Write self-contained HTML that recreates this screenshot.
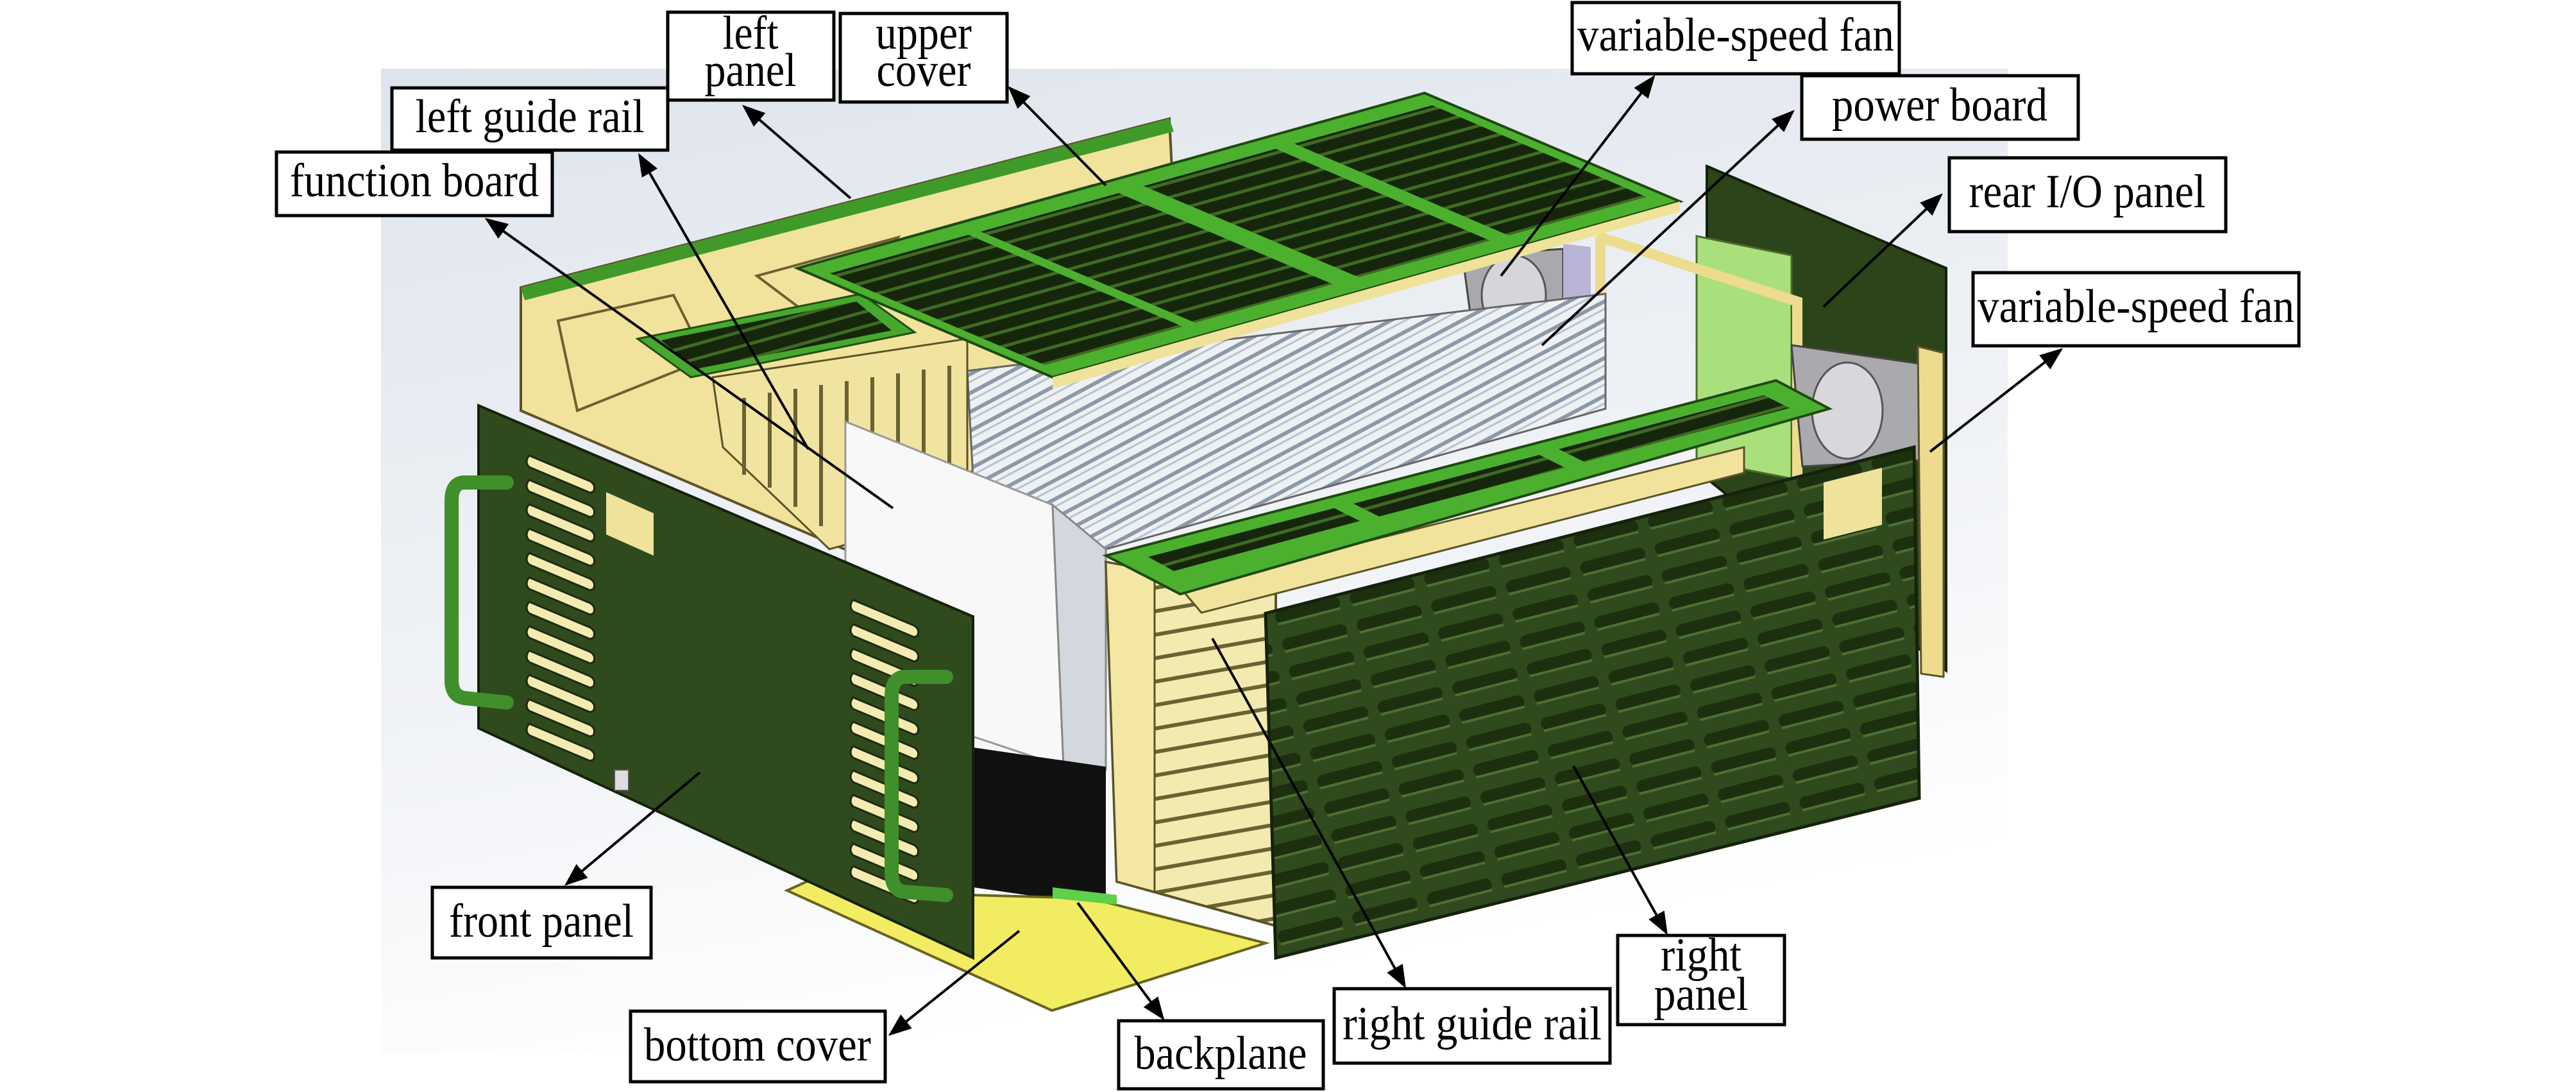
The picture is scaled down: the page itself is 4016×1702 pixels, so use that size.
<!DOCTYPE html>
<html><head><meta charset="utf-8"><style>
html,body{margin:0;padding:0;background:#fff;}
svg{display:block;}
text{font-family:"Liberation Serif",serif;font-size:74px;fill:#000;}
</style></head><body>
<svg width="4016" height="1702" viewBox="0 0 4016 1702" xmlns="http://www.w3.org/2000/svg">
<defs>
<linearGradient id="bg" x1="0" y1="0" x2="0.3" y2="1">
<stop offset="0" stop-color="#dfe4ec"/><stop offset="0.7" stop-color="#f3f5f8"/><stop offset="1" stop-color="#ffffff"/>
</linearGradient>
<pattern id="slatA" width="40" height="22" patternUnits="userSpaceOnUse" patternTransform="rotate(-15.6)">
<rect width="40" height="22" fill="#16260c"/><rect y="14" width="40" height="5" fill="#3f6a22"/>
</pattern>
<pattern id="slatR" width="120" height="44" patternUnits="userSpaceOnUse" patternTransform="rotate(-14.4)">
<rect width="120" height="44" fill="#2f4a1c"/><rect x="6" y="10" width="104" height="20" rx="10" fill="#1c300f"/><rect x="8" y="28" width="100" height="4" fill="#4f6e33"/>
</pattern>
<pattern id="cards" width="26" height="26" patternUnits="userSpaceOnUse" patternTransform="rotate(62)">
<rect width="26" height="26" fill="#eef1f4"/><rect width="6" height="26" fill="#8d99a8"/><rect x="12" width="3" height="26" fill="#b8c3cf"/>
</pattern>
<pattern id="yslot" width="60" height="36" patternUnits="userSpaceOnUse" patternTransform="rotate(-10)">
<rect width="60" height="36" fill="#f3eab0"/><rect y="24" width="60" height="6" fill="#6b6232"/>
</pattern>
<g id="slot"><path d="M0,0 L95,40 Q105,46 100,56 L95,58 L0,18 Q-8,10 0,0Z" fill="#f4ebb0" stroke="#1e2a10" stroke-width="3"/></g>
<marker id="ah" markerWidth="10" markerHeight="10" refX="8" refY="5" orient="auto" markerUnits="strokeWidth">
<path d="M0,1.5 L9,5 L0,8.5Z" fill="#000"/></marker>
</defs>
<rect width="4016" height="1702" fill="#fff"/>
<rect x="594" y="107" width="2536" height="1535" fill="url(#bg)"/>

<polygon points="812,448 1823,185 1840,520 1326,860 812,640" fill="#f1e39b" stroke="#5c5328" stroke-width="4"/>
<polygon points="812,448 1823,185 1830,205 818,468" fill="#3f9a2a"/>
<path d="M870,500 L1050,460 L1100,560 L900,640Z M1180,430 L1400,370 L1300,520Z M1450,360 L1700,290 L1600,420Z" fill="none" stroke="#6b6232" stroke-width="4"/>

<polygon points="2661,259 3034,418 3034,1045 2661,746" fill="#2c4419" stroke="#14200a" stroke-width="4"/>
<polygon points="2645,368 2793,398 2793,746 2645,717" fill="#a9e07c" stroke="#4b6b2a" stroke-width="3"/>
<path d="M2490,368 L2802,470 L2802,745 M2495,368 L2495,640" fill="none" stroke="#eddc8e" stroke-width="16"/>
<polygon points="2280,398 2437,388 2437,538 2296,518" fill="#a8a8ad" stroke="#444" stroke-width="3"/>
<ellipse cx="2360" cy="460" rx="50" ry="62" fill="#d6d6da" stroke="#555" stroke-width="3"/>
<polygon points="2437,380 2480,385 2480,560 2437,545" fill="#b9b3d6"/>
<polygon points="2793,538 3001,568 3001,717 2810,727" fill="#a9a9ae" stroke="#444" stroke-width="3"/>
<ellipse cx="2880" cy="640" rx="55" ry="75" fill="#d8d8dc" stroke="#555" stroke-width="3"/>
<polygon points="2990,540 3030,550 3030,1055 2995,1050" fill="#eddc8e" stroke="#5c5328" stroke-width="3"/>

<polygon points="1508,578 2503,458 2503,637 1724,856 1520,800" fill="url(#cards)" stroke="#666" stroke-width="3"/>
<polygon points="1111,588 1508,528 1508,797 1293,856 1127,697" fill="#f0e4a0" stroke="#5c5328" stroke-width="3"/>
<path d="M1160,620 V740 M1200,612 V760 M1240,606 V790 M1280,600 V820 M1320,594 V840 M1360,588 V830 M1400,582 V820 M1440,576 V810 M1480,570 V800" stroke="#6b6232" stroke-width="6"/>
<polygon points="1318,657 1641,787 1658,1195 1508,1145 1318,1070" fill="#f8f8f8" stroke="#999" stroke-width="3"/>
<polygon points="1641,787 1724,856 1724,1200 1658,1195" fill="#d3d8de" stroke="#888" stroke-width="3"/>

<polygon points="994,528 1343,458 1426,518 1077,588" fill="#47a82e" stroke="#225014" stroke-width="3"/>
<polygon points="1030,530 1335,470 1390,515 1085,575" fill="url(#slatA)"/>

<polygon points="1243,418 2221,145 2619,314 1641,588" fill="#4cb02f" stroke="#1e4a10" stroke-width="4"/>
<polygon points="1641,588 2619,314 2619,330 1641,606" fill="#efe29a"/>
<polygon points="1294,426 1510,366 1844,509 1629,569" fill="url(#slatA)"/>
<polygon points="1529,361 1744,301 2078,443 1863,503" fill="url(#slatA)"/>
<polygon points="1783,290 1989,232 2323,375 2118,432" fill="url(#slatA)"/>
<polygon points="2018,224 2233,164 2567,307 2352,367" fill="url(#slatA)"/>

<polygon points="1517,1165 1724,1195 1724,1413 1517,1383" fill="#111"/>
<polygon points="1227,1388 1262,1372 1517,1470 1517,1395 1700,1400 1973,1470 1640,1575" fill="#f2ec62" stroke="#6a6420" stroke-width="4"/>
<polygon points="1641,1383 1741,1395 1741,1410 1641,1400" fill="#5fd04a"/>

<polygon points="1724,876 1989,926 1989,1443 1741,1374" fill="url(#yslot)" stroke="#5c5328" stroke-width="4"/>
<polygon points="1724,876 1800,890 1800,1390 1741,1374" fill="#f3e7a3" stroke="#5c5328" stroke-width="3"/>
<polygon points="1840,916 2719,697 2719,737 1873,955" fill="#f1e39b" stroke="#5c5328" stroke-width="3"/>
<polygon points="1724,866 2769,593 2852,637 1840,926" fill="#4cb02f" stroke="#1e4a10" stroke-width="4"/>
<polygon points="1790,868 2080,792 2120,812 1830,890" fill="url(#slatA)"/>
<polygon points="2110,785 2400,709 2440,729 2150,805" fill="url(#slatA)"/>
<polygon points="2430,700 2750,616 2790,636 2470,720" fill="url(#slatA)"/>

<polygon points="746,632 1517,961 1517,1493 746,1135" fill="#2f4a1c" stroke="#15220b" stroke-width="4"/>
<polygon points="945,767 1019,800 1019,866 945,833" fill="#efe29a"/>
<g>
<use href="#slot" x="825" y="710"/><use href="#slot" x="825" y="748"/><use href="#slot" x="825" y="786"/><use href="#slot" x="825" y="824"/><use href="#slot" x="825" y="862"/><use href="#slot" x="825" y="900"/><use href="#slot" x="825" y="938"/><use href="#slot" x="825" y="976"/><use href="#slot" x="825" y="1014"/><use href="#slot" x="825" y="1052"/><use href="#slot" x="825" y="1090"/><use href="#slot" x="825" y="1128"/>
<use href="#slot" x="1330" y="935"/><use href="#slot" x="1330" y="973"/><use href="#slot" x="1330" y="1011"/><use href="#slot" x="1330" y="1049"/><use href="#slot" x="1330" y="1087"/><use href="#slot" x="1330" y="1125"/><use href="#slot" x="1330" y="1163"/><use href="#slot" x="1330" y="1201"/><use href="#slot" x="1330" y="1239"/><use href="#slot" x="1330" y="1277"/><use href="#slot" x="1330" y="1315"/><use href="#slot" x="1330" y="1350"/>
</g>
<path d="M790,752 L722,752 Q704,754 704,780 L704,1060 Q704,1085 724,1088 L790,1095" fill="none" stroke="#3f8f2b" stroke-width="22" stroke-linecap="round"/>
<path d="M1475,1055 L1408,1055 Q1390,1058 1390,1085 L1390,1360 Q1390,1388 1410,1390 L1475,1395" fill="none" stroke="#3f8f2b" stroke-width="22" stroke-linecap="round"/>
<rect x="958" y="1200" width="22" height="32" fill="#ddd" stroke="#555" stroke-width="2"/>

<polygon points="1973,956 2984,697 2992,1244 1989,1493" fill="url(#slatR)" stroke="#15220b" stroke-width="5"/>
<polygon points="2843,752 2934,729 2934,818 2843,841" fill="#efe29a"/>

<g stroke="#000" stroke-width="4" fill="none" marker-end="url(#ah)">
<line x1="1392" y1="792" x2="759" y2="342"/>
<line x1="1260" y1="700" x2="997" y2="242"/>
<line x1="1326" y1="309" x2="1160" y2="166"/>
<line x1="1724" y1="289" x2="1574" y2="137"/>
<line x1="2340" y1="430" x2="2578" y2="120"/>
<line x1="2404" y1="538" x2="2795" y2="174"/>
<line x1="2843" y1="478" x2="3026" y2="304"/>
<line x1="3009" y1="704" x2="3213" y2="545"/>
<line x1="1091" y1="1204" x2="883" y2="1378"/>
<line x1="1589" y1="1451" x2="1388" y2="1612"/>
<line x1="1680" y1="1407" x2="1813" y2="1587"/>
<line x1="1890" y1="995" x2="2190" y2="1537"/>
<line x1="2453" y1="1194" x2="2598" y2="1454"/>
</g>

<g fill="#fff" stroke="#000" stroke-width="5">
<rect x="1041" y="19" width="259" height="137"/>
<rect x="1310" y="21" width="260" height="138"/>
<rect x="611" y="137" width="430" height="97"/>
<rect x="431" y="237" width="430" height="99"/>
<rect x="2451" y="4" width="510" height="111"/>
<rect x="2809" y="118" width="431" height="99"/>
<rect x="3039" y="246" width="431" height="115"/>
<rect x="3076" y="425" width="508" height="114"/>
<rect x="674" y="1383" width="341" height="110"/>
<rect x="983" y="1576" width="397" height="110"/>
<rect x="1744" y="1591" width="319" height="106"/>
<rect x="2080" y="1541" width="430" height="116"/>
<rect x="2522" y="1458" width="260" height="139"/>
</g>
<g text-anchor="middle">
<text x="1170" y="76" textLength="87" lengthAdjust="spacingAndGlyphs">left</text>
<text x="1170" y="134" textLength="143" lengthAdjust="spacingAndGlyphs">panel</text>
<text x="1440" y="76" textLength="150" lengthAdjust="spacingAndGlyphs">upper</text>
<text x="1440" y="134" textLength="147" lengthAdjust="spacingAndGlyphs">cover</text>
<text x="826" y="206" textLength="357" lengthAdjust="spacingAndGlyphs">left guide rail</text>
<text x="646" y="306" textLength="388" lengthAdjust="spacingAndGlyphs">function board</text>
<text x="2706" y="79" textLength="494" lengthAdjust="spacingAndGlyphs">variable-speed fan</text>
<text x="3024" y="188" textLength="336" lengthAdjust="spacingAndGlyphs">power board</text>
<text x="3254" y="323" textLength="369" lengthAdjust="spacingAndGlyphs">rear I/O panel</text>
<text x="3330" y="502" textLength="494" lengthAdjust="spacingAndGlyphs">variable-speed fan</text>
<text x="844" y="1460" textLength="288" lengthAdjust="spacingAndGlyphs">front panel</text>
<text x="1181" y="1653" textLength="354" lengthAdjust="spacingAndGlyphs">bottom cover</text>
<text x="1903" y="1666" textLength="269" lengthAdjust="spacingAndGlyphs">backplane</text>
<text x="2295" y="1620" textLength="404" lengthAdjust="spacingAndGlyphs">right guide rail</text>
<text x="2652" y="1513" textLength="126" lengthAdjust="spacingAndGlyphs">right</text>
<text x="2652" y="1574" textLength="147" lengthAdjust="spacingAndGlyphs">panel</text>
</g>
</svg>
</body></html>
